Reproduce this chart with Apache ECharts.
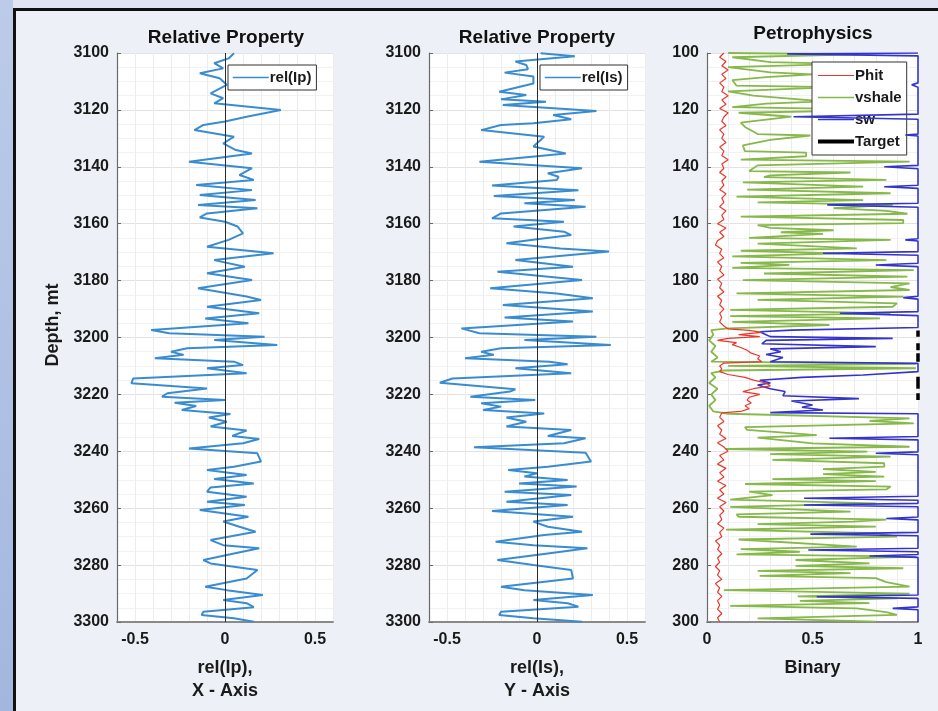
<!DOCTYPE html>
<html><head><meta charset="utf-8">
<script src="https://cdn.jsdelivr.net/npm/echarts@6/dist/echarts.min.js"></script>
<style>
html,body{margin:0;padding:0;width:938px;height:711px;overflow:hidden;background:#dfe5f1;}
#strip{position:absolute;left:0;top:0;width:13px;height:711px;background:linear-gradient(180deg,#bccbe9,#a3b7de);}
#panel{position:absolute;left:13px;top:8px;width:925px;height:703px;box-sizing:border-box;border-left:3px solid #111;border-top:3px solid #111;background:#edf0f6;}
#chart{position:absolute;left:0;top:0;width:938px;height:711px;}
</style></head><body>
<div id="strip"></div><div id="panel"></div><div id="chart"></div>
<script>
// ---------- data ----------
const ipDepth=[3100.1,3101.9,3103.6,3105.4,3107.1,3108.9,3111.2,3114.2,3115.9,3117.7,
3120.0,3122.4,3124.1,3125.3,3127.1,3129.4,3131.8,3134.1,3135.3,3138.2,
3140.5,3142.9,3144.6,3146.4,3148.2,3149.9,3151.7,3153.4,3154.6,3156.4,
3157.8,3159.3,3161.0,3163.4,3165.7,3168.1,3170.4,3172.8,3175.1,3177.4,
3179.8,3182.7,3185.6,3186.8,3189.2,3191.5,3193.3,3195.0,3197.4,3198.5,
3199.7,3200.9,3202.6,3203.8,3205.0,3206.1,3207.3,3208.5,3209.7,3210.8,
3212.6,3214.4,3216.1,3217.9,3219.6,3220.8,3222.0,3222.9,3224.1,3225.5,
3226.9,3228.1,3229.6,3231.3,3232.7,3234.6,3235.7,3237.2,3239.0,3240.7,
3243.6,3245.4,3246.6,3248.3,3249.7,3251.3,3252.7,3254.2,3256.0,3257.7,
3258.9,3260.6,3263.0,3264.7,3266.5,3268.3,3271.2,3273.0,3274.1,3275.9,
3278.2,3279.4,3281.7,3284.7,3287.6,3288.8,3290.5,3292.3,3293.4,3294.8,
3296.4,3297.5,3298.7,3299.9];
const ipVal=[0.05,0.02,-0.06,-0.01,-0.14,-0.03,0.01,-0.08,-0.01,-0.06,
0.31,0.12,0,-0.12,-0.17,0.05,-0.01,0.06,0.15,-0.2,
0.15,0.08,0.16,-0.16,0.15,-0.14,0.17,-0.15,0.18,-0.1,
-0.14,0,0.07,0.1,0.02,-0.1,0.27,-0.06,0.11,-0.1,
0.15,-0.15,0.12,0.2,-0.1,0.19,-0.11,0.13,-0.41,-0.31,
0.22,-0.06,0.29,-0.21,-0.3,-0.23,-0.39,0.05,0.1,-0.1,
0.12,-0.51,-0.52,-0.1,-0.32,-0.35,0,-0.28,-0.16,-0.24,
0.03,-0.09,0.01,-0.08,0.12,0.04,0.19,0.1,-0.2,0.18,
0.2,0.05,-0.1,0.12,-0.06,0.16,-0.08,-0.1,0.12,-0.1,
0.11,-0.14,0.13,-0.01,0.08,0.17,-0.08,-0.01,0.19,0.05,
-0.12,-0.08,0.18,0.12,-0.11,0.01,0.21,-0.01,0.12,0.16,
-0.12,-0.13,0.05,0.16];

const isDepth=[3100.1,3101.1,3103.0,3104.2,3105.7,3106.9,3108.3,3110.7,3113.6,3114.8,
3116.3,3117.1,3118.3,3120.4,3121.8,3123.3,3124.7,3125.3,3127.1,3129.4,
3130.6,3132.9,3135.3,3138.2,3140.5,3142.3,3143.5,3144.6,3146.6,3148.2,
3150.3,3151.7,3152.8,3154.0,3156.4,3158.1,3159.3,3161.0,3162.8,3164.0,
3165.5,3166.9,3168.7,3169.8,3172.8,3175.1,3176.9,3179.8,3182.7,3184.5,
3186.2,3188.6,3190.9,3193.0,3194.4,3196.8,3198.5,3199.7,3200.9,3202.6,
3203.8,3205.0,3206.1,3207.3,3208.5,3209.4,3210.8,3212.6,3214.4,3215.9,
3218.2,3219.0,3220.8,3222.0,3223.1,3224.3,3225.5,3226.7,3228.1,3229.6,
3231.3,3232.5,3234.6,3235.4,3237.2,3238.6,3240.5,3243.6,3245.4,3246.6,
3247.7,3248.9,3250.1,3251.3,3252.4,3254.2,3255.4,3257.7,3258.9,3261.0,
3263.0,3264.7,3266.5,3268.3,3269.4,3271.8,3273.0,3274.1,3275.9,3278.2,
3280.0,3281.7,3284.7,3287.6,3288.8,3290.5,3292.3,3293.4,3294.6,3296.4,
3297.5,3298.7,3299.9];
const isVal=[0.02,0.21,-0.12,-0.06,-0.05,-0.18,-0.02,-0.02,-0.21,-0.06,
-0.2,0.05,-0.19,0.33,0.09,0.19,-0.02,-0.2,-0.31,0.04,
0.02,-0.02,0.16,-0.32,0.25,0.06,0.12,0.11,-0.25,0.23,
-0.24,0.21,-0.07,0.27,-0.2,-0.25,0.15,-0.13,0.15,0.19,
0,-0.17,0.13,0.4,-0.12,0.2,-0.22,0.25,-0.26,0.11,
0.31,-0.19,0.31,-0.18,0.2,-0.42,-0.32,0.33,-0.07,0.41,
-0.2,-0.31,-0.24,-0.4,0.07,0.17,-0.12,0.19,-0.47,-0.54,
-0.12,-0.15,-0.37,-0.01,-0.31,-0.2,-0.3,0.04,-0.17,-0.06,
-0.17,0.19,0.06,0.27,0.15,-0.35,0.27,0.3,0.06,-0.16,
0,-0.07,0.17,-0.1,0.22,-0.18,0.19,-0.17,0.17,-0.25,
0.2,-0.02,0.06,0.25,0.04,-0.23,-0.02,0.28,0.06,-0.22,
-0.02,0.19,0.2,-0.2,-0.07,0.31,-0.02,0.17,0.23,-0.2,
-0.21,-0.02,0.25];

const phitDepth=[3100,3101.5,3103,3104.5,3106,3107.5,3109,3110.5,3112,3113.5,
3115,3116.5,3118,3119.5,3121,3122.5,3124,3125.5,3127,3128.5,
3130,3131.5,3133,3134.5,3136,3137.5,3139,3140.5,3142,3143.5,
3145,3146.5,3148,3149.5,3151,3152.5,3154,3155.5,3157,3158.5,
3160,3161.5,3163,3164.5,3166,3167.5,3169,3170.5,3172,3173.5,
3175,3176.5,3178,3179.5,3181,3182.5,3184,3185.5,3187,3188.5,
3190,3191.5,3193,3194.5,3196,3197,3197.5,3198.2,3199,3199.7,
3200.3,3201,3201.8,3202.5,3203.5,3204.5,3205.5,3206.5,3207.5,3208.5,
3209,3210,3211,3212,3213,3214,3215,3216,3217,3218,
3219,3220,3221,3222,3223,3224,3225,3226,3226.5,3228,
3229.5,3231,3232.5,3234,3235.5,3237,3238.5,3240,3241.5,3243,
3244.5,3246,3247.5,3249,3250.5,3252,3253.5,3255,3256.5,3258,
3259.5,3261,3262.5,3264,3265.5,3267,3268.5,3270,3271.5,3273,
3274.5,3276,3277.5,3279,3280.5,3282,3283.5,3285,3286.5,3288,
3289.5,3291,3292.5,3294,3295.5,3297,3298.5,3300];
const phitVal=[0.08,0.06,0.09,0.07,0.10,0.07,0.09,0.06,0.08,0.07,
0.10,0.07,0.09,0.06,0.10,0.08,0.07,0.09,0.06,0.08,
0.07,0.09,0.06,0.08,0.07,0.10,0.07,0.08,0.06,0.09,
0.07,0.08,0.06,0.09,0.07,0.08,0.06,0.09,0.07,0.08,
0.05,0.09,0.06,0.08,0.05,0.04,0.07,0.06,0.08,0.05,
0.07,0.06,0.08,0.05,0.07,0.06,0.08,0.05,0.07,0.06,
0.08,0.06,0.07,0.06,0.08,0.10,0.20,0.26,0.15,0.25,
0.10,0.05,0.14,0.12,0.16,0.19,0.21,0.25,0.24,0.26,
0.08,0.06,0.07,0.06,0.10,0.18,0.22,0.28,0.30,0.22,
0.17,0.25,0.20,0.19,0.21,0.18,0.20,0.16,0.07,0.06,
0.08,0.05,0.07,0.06,0.09,0.05,0.08,0.10,0.06,0.08,
0.05,0.09,0.06,0.08,0.05,0.09,0.06,0.08,0.05,0.09,
0.06,0.08,0.06,0.07,0.05,0.08,0.06,0.07,0.04,0.06,
0.05,0.07,0.05,0.06,0.04,0.06,0.05,0.07,0.04,0.06,
0.05,0.07,0.05,0.06,0.05,0.07,0.05,0.06];

const vshDepth=[3100.0,3100.5,3101.5,3103.2,3103.8,3105.0,3106.8,3107.5,3108.5,3109.5,
3111.5,3112.0,3113.5,3115.0,3117.0,3117.8,3119.0,3120.0,3121.0,3122.4,
3124.5,3126.0,3128.5,3129.0,3130.5,3132.5,3134.5,3135.0,3136.3,3137.5,
3138.2,3139.5,3141.5,3142.0,3143.0,3143.6,3144.6,3145.5,3147.0,3148.0,
3149.3,3150.5,3151.7,3152.5,3153.4,3154.5,3155.5,3156.5,3157.5,3158.7,
3159.8,3160.5,3161.5,3162.3,3163.0,3163.6,3165.0,3165.7,3167.0,3168.7,
3169.5,3170.4,3171.5,3172.8,3173.8,3174.5,3175.5,3176.3,3177.5,3178.6,
3179.8,3181.0,3182.3,3183.3,3184.5,3185.6,3186.8,3188.0,3189.2,3190.3,
3191.5,3192.5,3193.3,3194.5,3195.6,3196.8,3197.4,3199.0,3201.0,3203.0,
3205.0,3207.0,3208.5,3209.3,3210.0,3210.8,3211.6,3212.5,3214.0,3216.0,
3218.0,3220.0,3222.0,3224.0,3226.0,3226.8,3228.4,3229.3,3230.2,3231.5,
3232.5,3234.3,3235.2,3237.2,3238.4,3239.2,3240.1,3241.0,3241.9,3243.0,
3244.2,3245.4,3246.3,3247.2,3248.0,3248.9,3249.8,3250.5,3251.5,3252.4,
3253.4,3254.2,3255.4,3257.0,3258.3,3259.5,3261.2,3262.2,3263.0,3264.0,
3264.7,3265.6,3266.5,3267.5,3268.8,3270.0,3271.0,3273.5,3274.4,3275.3,
3276.2,3277.0,3278.2,3279.4,3280.3,3281.1,3282.0,3282.8,3283.8,3284.6,
3286.0,3287.6,3288.8,3290.0,3291.0,3291.7,3292.6,3293.4,3294.3,3295.2,
3296.5,3297.5,3298.7,3299.9];
const vshVal=[0.10,0.72,0.12,0.30,0.66,0.10,0.30,0.50,0.28,0.12,
0.14,0.60,0.10,0.22,0.55,0.28,0.12,0.90,0.15,0.40,
0.16,0.18,0.24,0.49,0.30,0.17,0.18,0.47,0.47,0.16,
0.96,0.24,0.20,0.68,0.30,0.27,0.85,0.17,0.74,0.19,
0.87,0.14,0.74,0.24,0.88,0.60,0.85,0.95,0.16,0.93,
0.93,0.24,0.30,0.60,0.35,0.55,0.20,0.87,0.24,0.71,
0.16,0.63,0.12,0.85,0.16,0.39,0.12,0.98,0.27,0.95,
0.17,0.96,0.87,0.96,0.14,0.93,0.24,0.90,0.88,0.11,
0.87,0.11,0.82,0.12,0.58,0.10,0.02,0.03,0.01,0.04,
0.02,0.05,0.02,0.99,0.10,0.99,0.08,0.02,0.04,0.01,
0.05,0.02,0.04,0.01,0.03,0.10,0.96,0.77,0.98,0.18,
0.19,0.52,0.24,0.50,0.96,0.09,0.76,0.30,0.87,0.31,
0.84,0.84,0.55,0.80,0.55,0.84,0.31,0.80,0.18,0.87,
0.85,0.20,0.31,0.11,0.80,0.11,0.68,0.14,0.15,0.85,
0.69,0.24,0.80,0.09,0.80,0.90,0.15,0.71,0.16,0.44,
0.14,0.99,0.42,0.77,0.42,0.93,0.24,0.68,0.25,0.80,
0.85,0.96,0.08,0.96,0.43,0.90,0.44,0.77,0.11,0.71,
0.85,0.90,0.24,0.80];

const swDepth=[3100.0,3100.3,3101.0,3110.5,3111.2,3112.0,3121.5,3122.4,3123.3,3128.5,
3128.8,3129.2,3139.5,3140.0,3140.7,3146.5,3147.0,3147.6,3152.8,3153.4,
3154.2,3165.3,3165.7,3166.1,3169.8,3170.4,3171.1,3173.9,3174.5,3175.1,
3185.5,3186.0,3186.5,3190.9,3191.5,3192.3,3196.5,3197.4,3198.0,3199.0,
3199.7,3200.3,3201.0,3202.2,3203.2,3204.0,3205.0,3206.0,3207.0,3208.5,
3209.1,3212.0,3213.2,3214.0,3215.0,3216.0,3216.7,3218.0,3219.0,3220.5,
3221.5,3222.3,3223.7,3224.5,3225.5,3226.4,3226.8,3234.8,3235.4,3236.0,
3240.2,3240.7,3241.2,3255.8,3256.5,3257.2,3258.3,3258.9,3259.5,3263.1,
3263.6,3264.1,3268.5,3269.1,3269.7,3274.1,3274.7,3275.3,3276.3,3276.8,
3277.3,3290.5,3291.1,3291.7,3294.7,3295.2,3295.7,3300.0];
const swVal=[1,0.38,1,1,0.97,1,1,0.41,1,1,
0.94,1,1,0.84,1,1,0.84,1,1,0.57,
1,1,0.94,1,1,0.55,1,1,0.80,1,
1,0.93,1,1,0.63,1,1,0.40,0.25,0.28,
0.30,0.88,0.28,0.26,0.80,0.30,0.35,0.28,0.36,0.30,
1,1,0.74,0.45,0.25,0.30,0.24,0.30,0.37,0.36,
0.72,0.40,0.50,0.45,0.55,0.30,1,1,0.58,1,
1,0.80,1,1,0.46,1,1,0.46,1,1,
0.85,1,1,0.49,1,1,0.48,1,1,0.77,
1,1,0.52,1,1,0.88,1,1];

const targetTop=[3197.5,3202.0,3205.5,3213.8,3219.6];
const targetBase=[3199.7,3204.5,3208.5,3218.0,3222.0];
const targetVal=1;

const relTicks=[-0.5,0,0.5];
const binTicks=[0,0.5,1];
const depthMin=3100, depthMax=3300, depthStep=20;

// ---------- chart ----------
const FONT='"Liberation Sans", Arial, Helvetica, sans-serif';
const TXT='#1a1a1a';
const C_REL='#3a8cd0', C_PHIT='#e8382c', C_VSH='#86b84a', C_SW='#3434cc', C_TGT='#000000';
function pairs(v,d){const o=[];const n=Math.min(v.length,d.length);for(let i=0;i<n;i++)o.push([v[i],d[i]]);return o;}
function showTick(list){return function(v){for(const t of list){if(Math.abs(v-t)<1e-6)return String(t);}return '';};}

const grids=[
 {left:117,top:53,width:216,height:569},
 {left:429,top:53,width:216,height:569},
 {left:707,top:53,width:211,height:569}
].map(g=>Object.assign(g,{show:true,backgroundColor:'#ffffff',borderWidth:0}));

function xAx(i,min,max,ticks,name){
 return {type:'value',gridIndex:i,min:min,max:max,interval:0.1,position:'bottom',
  axisLine:{show:true,onZero:false,lineStyle:{color:'#8a8a8a',width:1.8}},
  axisTick:{show:false},
  axisLabel:{formatter:showTick(ticks),color:TXT,fontFamily:FONT,fontWeight:'bold',fontSize:16,margin:10,showMinLabel:true,showMaxLabel:true},
  splitLine:{show:true,lineStyle:{color:'#ececec',width:1}},
  name:name,nameLocation:'middle',nameGap:35,
  nameTextStyle:{color:TXT,fontFamily:FONT,fontWeight:'bold',fontSize:18,lineHeight:23}};
}
function yAx(i,full){
 return {type:'value',gridIndex:i,min:depthMin,max:depthMax,interval:depthStep,inverse:true,
  axisLine:{show:true,onZero:false,lineStyle:{color:'#6a6a6a',width:1.2}},
  axisTick:{show:true,inside:true,length:4,lineStyle:{color:'#6a6a6a'}},
  axisLabel:{color:TXT,fontFamily:FONT,fontWeight:'bold',fontSize:16,margin:8,
    formatter:full?(v=>String(v)):(v=>String(v).slice(1))},
  splitLine:{show:true,lineStyle:{color:'#e2e2e2',width:1}},
  minorTick:{show:false,splitNumber:4},
  minorSplitLine:{show:true,lineStyle:{color:'#f2f2f2',width:1}}};
}

const zeroLine={silent:true,symbol:'none',label:{show:false},lineStyle:{color:'#2a2a2a',width:1,type:'solid'},data:[{xAxis:0}],animation:false};

const series=[
 {name:'rel(Ip)',type:'line',xAxisIndex:0,yAxisIndex:0,symbol:'none',data:pairs(ipVal,ipDepth),
  lineStyle:{color:C_REL,width:2},itemStyle:{color:C_REL},markLine:zeroLine,z:3},
 {name:'rel(Is)',type:'line',xAxisIndex:1,yAxisIndex:1,symbol:'none',data:pairs(isVal,isDepth),
  lineStyle:{color:C_REL,width:2},itemStyle:{color:C_REL},markLine:zeroLine,z:3},
 {name:'Phit',type:'line',xAxisIndex:2,yAxisIndex:2,symbol:'none',data:pairs(phitVal,phitDepth),
  lineStyle:{color:C_PHIT,width:1.2},itemStyle:{color:C_PHIT},z:5},
 {name:'vshale',type:'line',xAxisIndex:2,yAxisIndex:2,symbol:'none',data:pairs(vshVal,vshDepth),
  lineStyle:{color:C_VSH,width:1.8},itemStyle:{color:C_VSH},z:3},
 {name:'sw',type:'line',xAxisIndex:2,yAxisIndex:2,symbol:'none',data:pairs(swVal,swDepth),
  lineStyle:{color:C_SW,width:1.6},itemStyle:{color:C_SW},z:4}
];
for(let k=0;k<targetTop.length;k++){
 series.push({name:'Target',type:'line',xAxisIndex:2,yAxisIndex:2,symbol:'none',
  data:[[targetVal,targetTop[k]],[targetVal,targetBase[k]]],
  lineStyle:{color:C_TGT,width:3.5},itemStyle:{color:C_TGT},z:6});
}

const legendBase={orient:'vertical',backgroundColor:'#ffffff',borderColor:'#333',borderWidth:1,borderRadius:0,
 itemWidth:36,itemHeight:12,itemGap:7,selectedMode:false,
 itemStyle:{color:'rgba(0,0,0,0)',borderColor:'rgba(0,0,0,0)',borderWidth:0},
 textStyle:{color:TXT,fontFamily:FONT,fontWeight:'bold',fontSize:15,padding:[0,0,0,-4]}};
function li(name,color,w){return {name:name,lineStyle:{color:color,width:w}};}

const option={
 animation:false,
 backgroundColor:'transparent',
 grid:grids,
 xAxis:[xAx(0,-0.6,0.6,relTicks,'rel(Ip),\nX - Axis'),xAx(1,-0.6,0.6,relTicks,'rel(Is),\nY - Axis'),xAx(2,0,1,binTicks,'Binary')],
 yAxis:[yAx(0,true),yAx(1,true),yAx(2,false)],
 legend:[
  Object.assign({},legendBase,{data:[li('rel(Ip)',C_REL,1.5)],left:228,top:65,padding:[5,5,5,4]}),
  Object.assign({},legendBase,{data:[li('rel(Is)',C_REL,1.5)],left:540,top:65,padding:[5,5,5,4]}),
  Object.assign({},legendBase,{data:[li('Phit',C_PHIT,1.2),li('vshale',C_VSH,1.5),li('sw',C_SW,1.5),li('Target',C_TGT,4)],left:812,top:62,padding:[6,5,6,4]})
 ],
 graphic:[
  {type:'text',x:226,y:38,style:{text:'Relative Property',fill:'#111',fontFamily:FONT,fontWeight:'bold',fontSize:19,align:'center',verticalAlign:'middle'}},
  {type:'text',x:537,y:38,style:{text:'Relative Property',fill:'#111',fontFamily:FONT,fontWeight:'bold',fontSize:19,align:'center',verticalAlign:'middle'}},
  {type:'text',x:813,y:34,style:{text:'Petrophysics',fill:'#111',fontFamily:FONT,fontWeight:'bold',fontSize:19,align:'center',verticalAlign:'middle'}},
  {type:'text',x:53,y:325,rotation:Math.PI/2,style:{text:'Depth, mt',fill:TXT,fontFamily:FONT,fontWeight:'bold',fontSize:18,align:'center',verticalAlign:'middle'}}
 ],
 series:series
};
const chart=echarts.init(document.getElementById('chart'),null,{renderer:'canvas'});
chart.setOption(option);
</script></body></html>
